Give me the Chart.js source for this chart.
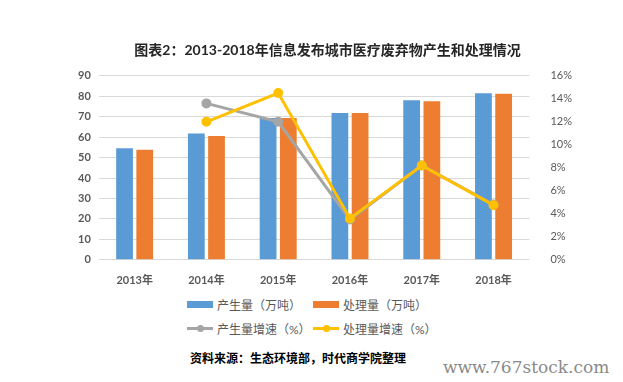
<!DOCTYPE html>
<html>
<head>
<meta charset="utf-8">
<script src="https://cdn.jsdelivr.net/npm/chart.js@4"></script>
<style>
    body { margin: 0; background: #fff; }
    #wrap { position: relative; width: 623px; height: 382px; font-family: Lato, "Noto Sans CJK SC", sans-serif; }
    #grafica { position: absolute; left: 0; top: 0; }
    .leyenda { position: absolute; font-size: 12px; color: #595959; display: flex; align-items: center; white-space: nowrap; }
    .caja { display: inline-block; width: 26px; height: 7px; margin-right: 4px; }
    .linea { position: relative; display: inline-block; width: 26px; height: 3px; margin-right: 4px; }
    .linea i { position: absolute; left: 10px; top: -2px; width: 7px; height: 7px; border-radius: 50%; }
    #fuente { position: absolute; left: 190px; top: 349px; font-size: 12px; font-weight: bold; color: #000; }
    #marca { position: absolute; left: 443px; top: 357px; font-family: "DejaVu Serif", serif; font-size: 17px; color: #8a8a8a; }
</style>
</head>
<body>
<div id="wrap">
    <canvas id="grafica" width="623" height="293"></canvas>
    <div class="leyenda" style="left:187px;top:296px;"><span class="caja" style="background:#5b9bd5"></span>产生量（万吨）</div>
    <div class="leyenda" style="left:313px;top:296px;"><span class="caja" style="background:#ed7d31"></span>处理量（万吨）</div>
    <div class="leyenda" style="left:187px;top:320px;"><span class="linea" style="background:#a5a5a5"><i style="background:#a5a5a5"></i></span>产生量增速（%）</div>
    <div class="leyenda" style="left:313px;top:320px;"><span class="linea" style="background:#ffc000"><i style="background:#ffc000"></i></span>处理量增速（%）</div>
    <div id="fuente">资料来源：生态环境部，时代商学院整理</div>
    <div id="marca">www.767stock.com</div>
</div>
<script>
const anyos = ['2013年', '2014年', '2015年', '2016年', '2017年', '2018年'];
const produccion = [54.6, 61.8, 69.3, 71.8, 78.1, 81.5];
const tratamiento = [53.8, 60.5, 69.4, 71.8, 77.6, 81.2];
const crecProduccion = [null, 0.136, 0.120, 0.035, 0.082, 0.048];
const crecTratamiento = [null, 0.120, 0.145, 0.036, 0.082, 0.0475];

const grisTexto = '#595959';
const fuenteBase = 'Lato, "Noto Sans CJK SC", sans-serif';

const datos = {
    labels: anyos,
    datasets: [{
        type: 'line',
        label: '处理量增速（%）',
        data: crecTratamiento,
        yAxisID: 'yDer',
        borderColor: '#ffc000',
        backgroundColor: '#ffc000',
        borderWidth: 3,
        pointRadius: 3.5,
        order: 0
    }, {
        type: 'line',
        label: '产生量增速（%）',
        data: crecProduccion,
        yAxisID: 'yDer',
        borderColor: '#a5a5a5',
        backgroundColor: '#a5a5a5',
        borderWidth: 3,
        pointRadius: 3.5,
        order: 1
    }, {
        label: '产生量（万吨）',
        data: produccion,
        yAxisID: 'yIzq',
        backgroundColor: '#5b9bd5',
        categoryPercentage: 0.563,
        barPercentage: 0.83,
        order: 2
    }, {
        label: '处理量（万吨）',
        data: tratamiento,
        yAxisID: 'yIzq',
        backgroundColor: '#ed7d31',
        categoryPercentage: 0.563,
        barPercentage: 0.83,
        order: 3
    }]
};

const opciones = {
    responsive: false,
    animation: false,
    layout: { padding: { top: 42, left: 70, right: 38, bottom: 0 } },
    plugins: {
        legend: { display: false },
        tooltip: { enabled: false },
        title: {
            display: true,
            text: '图表2：2013-2018年信息发布城市医疗废弃物产生和处理情况',
            color: '#262626',
            font: { family: fuenteBase, size: 14, weight: 'bold' },
            padding: { top: 0, bottom: 17 }
        }
    },
    scales: {
        x: {
            grid: { display: false },
            border: { display: false },
            ticks: { color: grisTexto, font: { family: fuenteBase, size: 11, weight: 'bold' }, padding: 6 }
        },
        yIzq: {
            position: 'left',
            min: 0,
            max: 90,
            ticks: { stepSize: 10, color: grisTexto, font: { family: fuenteBase, size: 11, weight: 'bold' }, padding: 8 },
            grid: { color: '#d9d9d9', drawTicks: false },
            border: { display: false }
        },
        yDer: {
            position: 'right',
            min: 0,
            max: 0.16,
            ticks: {
                stepSize: 0.02,
                color: grisTexto,
                font: { family: fuenteBase, size: 11 },
                padding: 13,
                callback: function (v) { return Math.round(v * 100) + '%'; }
            },
            grid: { display: false },
            border: { display: false }
        }
    }
};

new Chart(document.getElementById('grafica'), { type: 'bar', data: datos, options: opciones });
</script>
</body>
</html>
